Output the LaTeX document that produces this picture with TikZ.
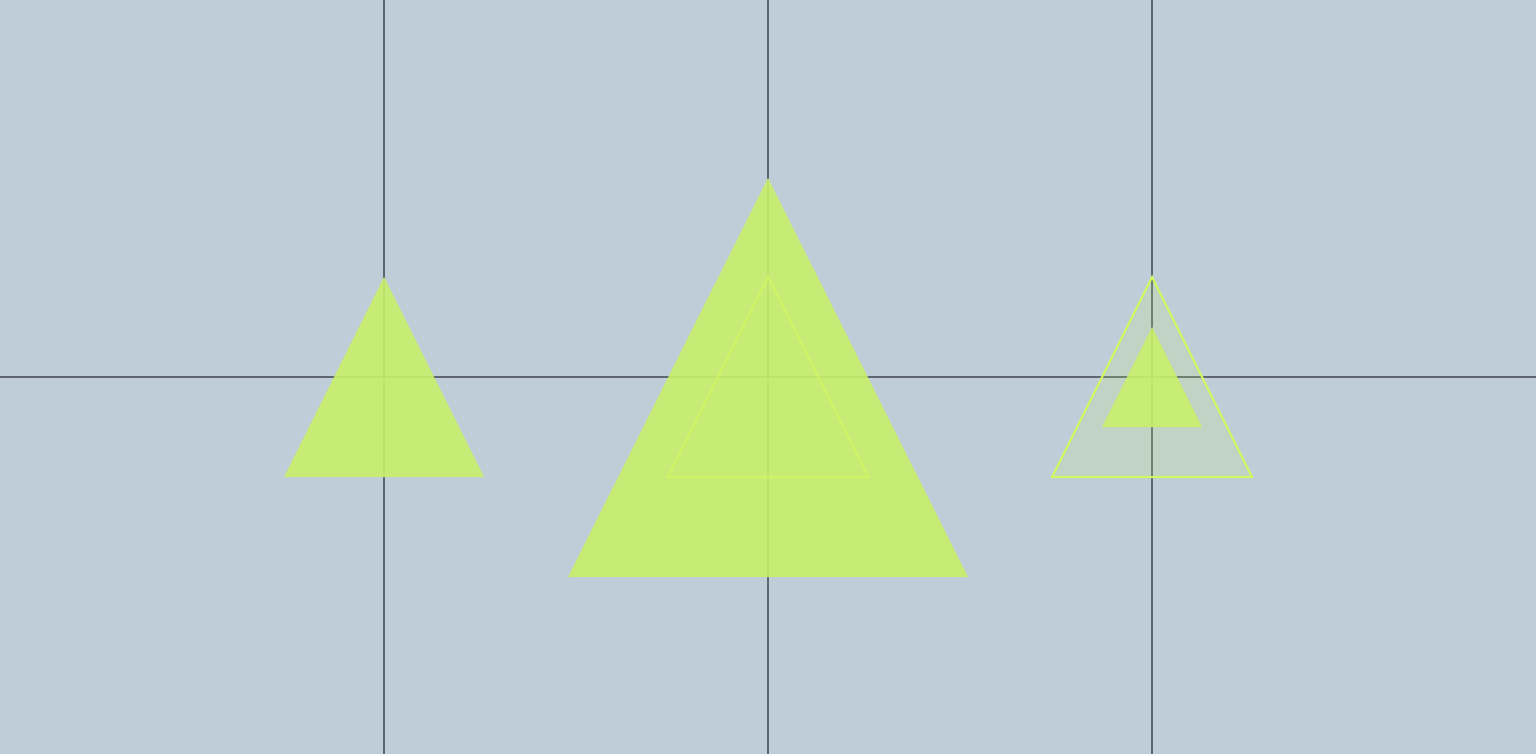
\documentclass[tikz,border=0pt]{standalone}
\begin{document}
\begin{tikzpicture}[x=0.5pt,y=-0.5pt,
  gridline/.style={draw=gridc,line width=1pt},
  solidtri/.style={fill=lime1,fill opacity=0.9,draw=none},
  outlinetri/.style={draw=limeS,line width=1pt,fill=lime1,fill opacity=0.18,draw opacity=1,line join=miter}]
\definecolor{bgc}{HTML}{BFCDD8}
\definecolor{gridc}{HTML}{5E6770}
\definecolor{lime1}{HTML}{C8F06C}
\definecolor{limeS}{HTML}{D2F860}
\fill[bgc] (0,0) rectangle (1536,754);
\useasboundingbox (0,0) rectangle (1536,754);
% grid
\draw[gridline] (384,0) -- (384,754);
\draw[gridline] (768,0) -- (768,754);
\draw[gridline] (1152,0) -- (1152,754);
\draw[gridline] (0,377) -- (1536,377);
% left
\fill[solidtri] (384,277) -- (484,477) -- (284,477) -- cycle;
% middle
\fill[solidtri] (768,178) -- (968,577) -- (568,577) -- cycle;
\draw[draw=limeS,line width=1pt,opacity=0.7] (768,277) -- (868,477) -- (668,477) -- cycle;
% right
\path[outlinetri] (1152,277) -- (1252,477) -- (1052,477) -- cycle;
\fill[solidtri] (1152,327) -- (1202,427) -- (1102,427) -- cycle;
\end{tikzpicture}
\end{document}
